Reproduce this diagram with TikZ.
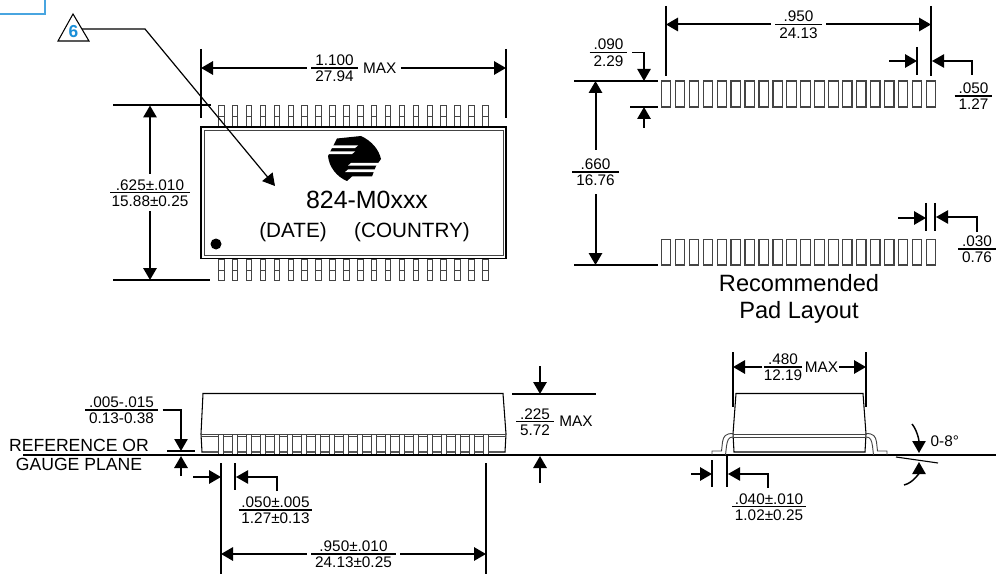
\documentclass[tikz,border=0pt]{standalone}
\usepackage{fontspec}
\setmainfont{Liberation Sans}
\usepackage{xcolor}
\usetikzlibrary{arrows.meta, positioning}
\definecolor{notchblue}{HTML}{1A8FD8}
\definecolor{leadgray}{HTML}{444444}
% two-line dimension, the rule sits on the centre of the node
\newcommand{\dimfrac}[3][3pt]{\vbox{\offinterlineskip\halign{\hskip#1\hfil##\hfil\hskip#1\cr
  \vrule height 8.6pt depth 1.5pt width 0pt #2\cr
  \noalign{\hrule height .9pt}
  \vrule height 9.8pt depth .3pt width 0pt #3\cr}}}

\begin{document}
\begin{tikzpicture}[
    x=0.75pt, y=-0.75pt,
    dimtext/.style={font=\fontsize{11.5pt}{13pt}\selectfont, inner sep=0pt, outer sep=3.5pt, align=center},
    bigtext/.style={font=\fontsize{15.5pt}{20pt}\selectfont, inner sep=0pt, align=center},
    dimarrow/.style={-{Triangle[length=9pt, width=10pt]}, line width=1.5pt},
    bentarrow/.style={-{Triangle[length=9pt, width=10pt]}, line width=1.1pt},
    extline/.style={line width=1.5pt},
    thinline/.style={line width=0.8pt},
    pin/.style={draw=leadgray, line width=0.7pt},
    pad/.style={draw=leadgray, line width=0.9pt},
  ]
  \useasboundingbox (0,0) rectangle (996,574);

  % Corner of the frame, top left
  \draw[draw=notchblue!80, line width=1.1pt] (0,14) -- (45,14) -- (45,0);

  % Top view — package
  \foreach \i in {0,...,19} {
    \draw[pin] ({218.5+13.9*\i},126) rectangle ({224+13.9*\i},105);
    \draw[pin] ({218.5+13.9*\i},116.5) -- ({224+13.9*\i},116.5);
    \draw[pin] ({218.5+13.9*\i},259) rectangle ({224+13.9*\i},280);
    \draw[pin] ({218.5+13.9*\i},270) -- ({224+13.9*\i},270);
  }
  \draw[fill=white, line width=0.8pt] (201,127) rectangle (506,258.5);
  \draw[leadgray, line width=0.6pt] (204,130) rectangle (503,255.5);
  \node[bigtext, font=\fontsize{18.7pt}{22pt}\selectfont] (partno) at (367,200) {824-M0xxx};
  \node[bigtext] (datecode) at (293,232.5) {(DATE)};
  \node[bigtext] (country) at (412,232.5) {(COUNTRY)};
  \fill (216,244) circle (5.5);

  % Logo
  \fill (337,138.5) -- (361,136) .. controls (372,141) and (379,150) .. (381,159)
    -- (376,166) -- (372,176.5) -- (352,176.5) -- (347,181)
    .. controls (337,177) and (329,167) .. (328,156) -- cycle;
  \foreach \yy/\xa/\xb in {145.5/330/358, 151.5/326/355, 163/351/383, 169.5/348/380}
    \fill[white] (\xa,\yy) -- (\xb,\yy) -- (\xb-3,\yy+2.6) -- (\xa-3,\yy+2.6) -- cycle;

  % Top view — dimensions
  \draw[extline] (201,49) -- (201,118);
  \draw[extline] (506,49) -- (506,118);
  \node[dimtext] (len) at (334.5,68) {\dimfrac{1.100}{27.94}};
  \node[dimtext, right=-3pt of len] (lenmax) {MAX};
  \draw[dimarrow] (len.west) -- (201,68);
  \draw[dimarrow] (lenmax.east) -- (506,68);

  \draw[extline] (113,105.5) -- (211,105.5);
  \draw[extline] (113,280) -- (210,280);
  \node[dimtext] (wid) at (150,192.7) {\dimfrac[1pt]{.625±.010}{15.88±0.25}};
  \draw[dimarrow] (wid.north) -- (150,105.5);
  \draw[dimarrow] (wid.south) -- (150,280);

  % Pin 1 note
  \draw[line width=0.8pt] (73,14) -- (89,41) -- (58,41) -- cycle;
  \node[font=\fontsize{13pt}{14pt}\selectfont\bfseries, text=notchblue, inner sep=0pt] (notenum) at (73.5,32) {6};
  \coordinate (noteleg) at (82,29);
  \draw[-{Triangle[length=9pt, width=10pt]}, line width=0.9pt] (noteleg) -- (145,29) -- (275,186);

  % Recommended pads
  \foreach \i in {0,...,19} {
    \draw[pad] ({661.3+13.95*\i},81) rectangle ({670.7+13.95*\i},107);
    \draw[pad] ({661.3+13.95*\i},239.5) rectangle ({670.7+13.95*\i},265);
  }
  \node[bigtext, font=\fontsize{17.7pt}{20.3pt}\selectfont] (padtitle) at (799,298.5) {Recommended\\Pad Layout};

  \draw[extline] (666,6) -- (666,76);
  \draw[extline] (931,6) -- (931,76);
  \node[dimtext] (span) at (798.5,24.5) {\dimfrac{.950}{24.13}};
  \draw[dimarrow] (span.west) -- (666,24.5);
  \draw[dimarrow] (span.east) -- (931,24.5);

  \draw[extline] (917,47) -- (917,75);
  \draw[dimarrow] (889,61) -- (917,61);
  \draw[bentarrow] (972,75) -- (972,61) -- (932,61);
  \node[dimtext] (pitch) at (973.5,96) {\dimfrac{.050}{1.27}};

  \node[dimtext] (padlen) at (608.5,52.5) {\dimfrac{.090}{2.29}};
  \draw[bentarrow] (padlen.east) -- (644,52.5) -- (644,81);
  \draw[extline] (630,107) -- (658,107);
  \draw[dimarrow] (644,128) -- (644,107);

  \draw[extline] (574,81) -- (658,81);
  \draw[extline] (574,265) -- (658,265);
  \node[dimtext, outer sep=6pt] (rowgap) at (595.5,172) {\dimfrac{.660}{16.76}};
  \draw[dimarrow] (rowgap.north) -- (595.5,81);
  \draw[dimarrow] (rowgap.south) -- (595.5,265);

  \draw[extline] (926,203) -- (926,231);
  \draw[extline] (935,203) -- (935,231);
  \draw[dimarrow] (898,218) -- (926,218);
  \draw[bentarrow] (977,232) -- (977,217) -- (936,217);
  \node[dimtext] (padwid) at (977,249) {\dimfrac{.030}{0.76}};

  % Side view
  \draw[line width=0.8pt] (203,393.5) -- (503,393.5) -- (506,434) -- (505,452) -- (202,452) -- (201,434) -- cycle;
  \draw[leadgray, line width=0.7pt] (201,434) -- (506,434);
  \draw[leadgray, line width=0.5pt] (201,436.5) -- (506,436.5);
  \foreach \i in {0,...,19}
    \draw[pin, fill=white] ({218.3+13.93*\i},434) rectangle ({223.3+13.93*\i},455);

  % Gauge plane
  \draw[line width=1.4pt] (23,455) -- (996,455);
  \node[dimtext, font=\fontsize{13.2pt}{13.6pt}\selectfont] (gauge) at (79,455) {REFERENCE OR\\GAUGE PLANE};

  \node[dimtext] (standoff) at (121.5,410) {\dimfrac{.005-.015}{0.13-0.38}};
  \draw[bentarrow] (standoff.east) -- (181,410) -- (181,451);
  \draw[thinline] (167,451) -- (195,451);
  \draw[dimarrow] (181,476) -- (181,456);

  \draw[extline] (221,463) -- (221,574);
  \draw[extline] (486,463) -- (486,574);
  \draw[extline] (235,463) -- (235,490);
  \draw[dimarrow] (193,477) -- (221,477);
  \draw[bentarrow] (277,491) -- (277,477) -- (236,477);
  \node[dimtext] (leadpitch) at (275.5,510) {\dimfrac[2pt]{.050±.005}{1.27±0.13}};
  \node[dimtext] (leadspan) at (353.5,554) {\dimfrac{.950±.010}{24.13±0.25}};
  \draw[dimarrow] (leadspan.west) -- (221,554);
  \draw[dimarrow] (leadspan.east) -- (486,554);

  \draw[extline] (512,394) -- (596,394);
  \draw[dimarrow] (540,366) -- (540,394);
  \draw[dimarrow] (540,483) -- (540,456);
  \node[dimtext] (height) at (535,421.7) {\dimfrac{.225}{5.72}};
  \node[dimtext, right=-3pt of height] (heightmax) {MAX};

  % End view
  \draw[line width=0.8pt] (736,393.5) -- (863,393.5) -- (866,434) -- (865,452) -- (734,452) -- (733,434) -- cycle;
  \foreach \flip in {1,-1} {
    \begin{scope}[xshift=799.5*0.75pt, xscale=\flip]
      \draw[leadgray, line width=0.7pt] (-66.5,433.5) .. controls (-74,433.5) and (-76,436) .. (-77,442) -- (-78,451) -- (-87.5,451) -- (-87.5,455);
      \draw[leadgray, line width=0.7pt] (-66.5,437) .. controls (-71,437) and (-72,440) .. (-73,446) -- (-74,455);
    \end{scope}
  }
  \draw[leadgray, line width=0.7pt] (733,434) -- (866,434);
  \draw[leadgray, line width=0.5pt] (733,437) -- (866,437);

  \draw[extline] (733,352) -- (733,407);
  \draw[extline] (866,352) -- (866,407);
  \node[dimtext, outer sep=1pt] (bodywid) at (783,367) {\dimfrac[0pt]{.480}{12.19}};
  \node[dimtext, outer sep=1pt, right=0pt of bodywid] (bodymax) {MAX};
  \draw[dimarrow] (bodywid.west) -- (733,367);
  \draw[dimarrow] (bodymax.east) -- (866,367);

  \draw[extline] (712,460) -- (712,487);
  \draw[extline] (727,456) -- (727,487);
  \draw[dimarrow] (691,474) -- (712,474);
  \draw[bentarrow] (768,488) -- (768,474) -- (728,474);
  \node[dimtext] (footlen) at (769,506.7) {\dimfrac[2pt]{.040±.010}{1.02±0.25}};

  % Foot angle
  \draw[thinline] (896,457) -- (938,463);
  \draw[bentarrow] (912,424) .. controls (917,430) and (919,440) .. (919,453);
  \draw[bentarrow] (904,485) .. controls (913,483) and (919,473) .. (919,462);
  \node[dimtext, anchor=west] (footangle) at (926,441) {0-8°};
\end{tikzpicture}
\end{document}
